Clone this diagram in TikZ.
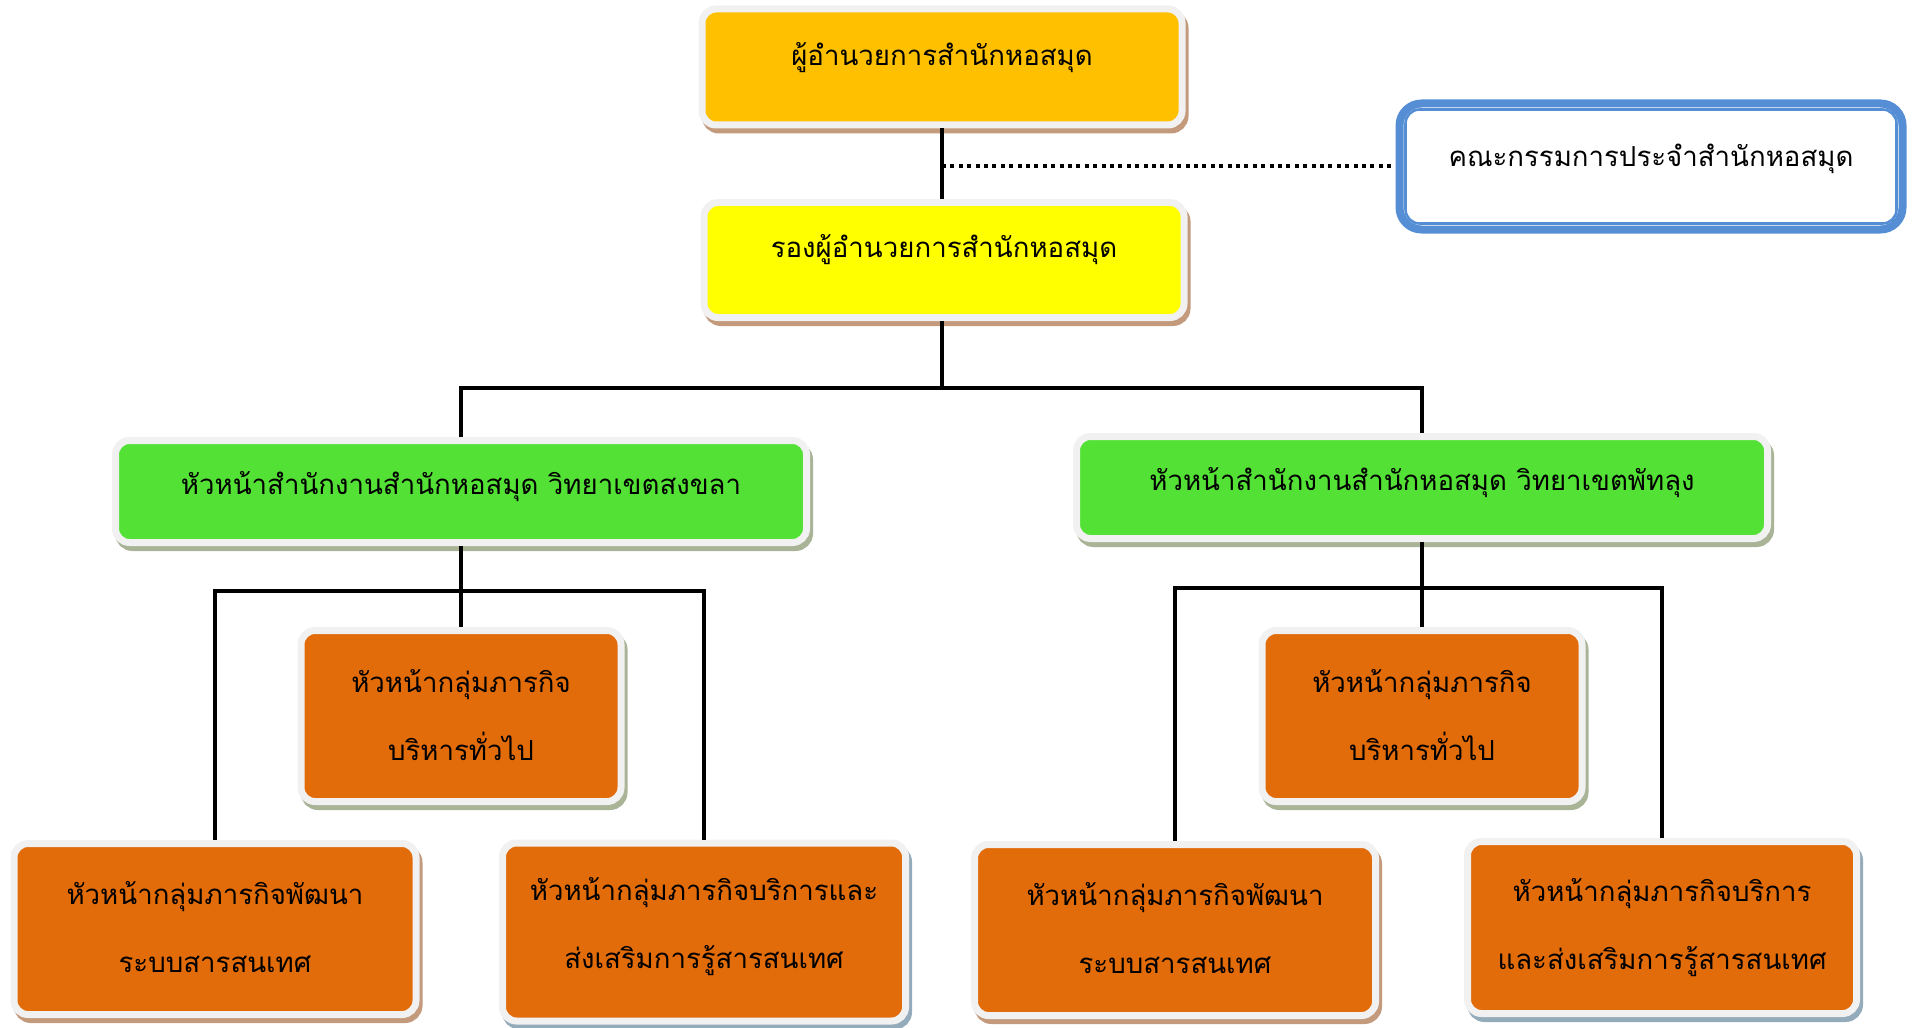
\documentclass[tikz,border=0pt]{standalone}
\usepackage{fontspec}
\newfontfamily\thaifont[Script=Thai]{Loma}
\usetikzlibrary{positioning}

\definecolor{headgold}{HTML}{FFC000}
\definecolor{deputyyellow}{HTML}{FFFF00}
\definecolor{campusgreen}{HTML}{54E136}
\definecolor{grouporange}{HTML}{E26B0A}
\definecolor{framegray}{HTML}{F1F1F1}
\definecolor{boardblue}{HTML}{558ED5}
\definecolor{shadebrown}{HTML}{C49A7C}
\definecolor{shadegreen}{HTML}{A9B396}
\definecolor{shadeblue}{HTML}{94ABBB}

\tikzset{
  orgbox/.style={rectangle, rounded corners=7pt, draw=framegray, line width=3.5pt,
    preaction={draw=#1, fill=#1, line width=3.5pt,
      transform canvas={xshift=1.5pt, yshift=-2.5pt}}},
  boardbox/.style={rectangle, rounded corners=11pt, draw=boardblue, line width=4pt, fill=white},
  boardline/.style={draw=boardblue, line width=1.3pt, rounded corners=7pt},
  boxtext/.style={font={\thaifont\fontsize{13.8pt}{34pt}\selectfont}, align=center, inner sep=0pt},
  link/.style={line width=2pt},
  dots/.style={line width=2pt, dash pattern=on 2pt off 2.2pt}
}

\begin{document}
\begin{tikzpicture}[x=0.5pt, y=-0.5pt]

	\useasboundingbox (0,0) rectangle (1914,1027);

	% director and deputy
	\node [orgbox=shadebrown, fill=headgold, minimum width=240pt, minimum height=58pt] (dir) at (942,67) {};
	\node [boxtext] (dirtxt) at ([yshift=4.5pt]dir.center) {ผู้อำนวยการสำนักหอสมุด};

	\node [orgbox=shadebrown, fill=deputyyellow, minimum width=240pt, minimum height=57.5pt] (vice) at (944,260) {};
	\node [boxtext] (vicetxt) at ([yshift=5pt]vice.center) {รองผู้อำนวยการสำนักหอสมุด};

	% committee
	\node [boardbox, minimum width=251.5pt, minimum height=63pt] (board) at (1651,166.5) {};
	\draw [boardline] ([shift={(10,10)}]board.north west) rectangle ([shift={(-10,-10)}]board.south east);
	\node [boxtext] (boardtxt) at ([yshift=4pt]board.center) {คณะกรรมการประจำสำนักหอสมุด};

	% campus heads
	\node [orgbox=shadegreen, fill=campusgreen, minimum width=345.5pt, minimum height=51pt] (sk) at (461,491.5) {};
	\node [boxtext] (sktxt) at ([yshift=2.5pt]sk.center) {หัวหน้าสำนักงานสำนักหอสมุด วิทยาเขตสงขลา};

	\node [orgbox=shadegreen, fill=campusgreen, minimum width=345.5pt, minimum height=51pt] (pt) at (1422,487.5) {};
	\node [boxtext] (pttxt) at ([yshift=2.5pt]pt.center) {หัวหน้าสำนักงานสำนักหอสมุด วิทยาเขตพัทลุง};

	% groups, Songkhla
	\node [orgbox=shadegreen, fill=grouporange, minimum width=160pt, minimum height=85.5pt] (gsk) at (461,716) {};
	\node [boxtext] (gsktxt) at ([yshift=0.5pt]gsk.center) {หัวหน้ากลุ่มภารกิจ\\บริหารทั่วไป};

	\node [orgbox=shadebrown, fill=grouporange, minimum width=201pt, minimum height=85.5pt] (dsk) at (215,929) {};
	\node [boxtext] (dsktxt) at ([yshift=1pt]dsk.center) {หัวหน้ากลุ่มภารกิจพัฒนา\\ระบบสารสนเทศ};

	\node [orgbox=shadeblue, fill=grouporange, minimum width=201.5pt, minimum height=89pt] (ssk) at (704,932) {};
	\node [boxtext] (ssktxt) at ([yshift=2.5pt]ssk.center) {หัวหน้ากลุ่มภารกิจบริการและ\\ส่งเสริมการรู้สารสนเทศ};

	% groups, Phatthalung
	\node [orgbox=shadegreen, fill=grouporange, minimum width=160pt, minimum height=85.5pt] (gpt) at (1422,716) {};
	\node [boxtext] (gpttxt) at ([yshift=0.5pt]gpt.center) {หัวหน้ากลุ่มภารกิจ\\บริหารทั่วไป};

	\node [orgbox=shadebrown, fill=grouporange, minimum width=200.5pt, minimum height=85.5pt] (dpt) at (1175,930) {};
	\node [boxtext] (dpttxt) at ([yshift=1pt]dpt.center) {หัวหน้ากลุ่มภารกิจพัฒนา\\ระบบสารสนเทศ};

	\node [orgbox=shadeblue, fill=grouporange, minimum width=194.5pt, minimum height=86pt] (spt) at (1662,927.5) {};
	\node [boxtext] (spttxt) at ([yshift=0pt]spt.center) {หัวหน้ากลุ่มภารกิจบริการ\\และส่งเสริมการรู้สารสนเทศ};

	% connectors
	\coordinate (bar) at (942,388);
	\coordinate (barL) at (461,591);
	\coordinate (barR) at (1422,588);

	\draw [link] (dir.south) -- (dir.south |- vice.north);
	\draw [dots] (dir.south |- board.west) -- (board.west);
	\draw [link] (dir.south |- vice.south) -- (bar);
	\draw [link] (sk.north) |- (bar) -| (pt.north);

	\draw [link] (sk.south) -- (gsk.north);
	\draw [link] (dsk.north) |- (barL) -| (ssk.north);

	\draw [link] (pt.south) -- (gpt.north);
	\draw [link] (dpt.north) |- (barR) -| (spt.north);

\end{tikzpicture}
\end{document}
